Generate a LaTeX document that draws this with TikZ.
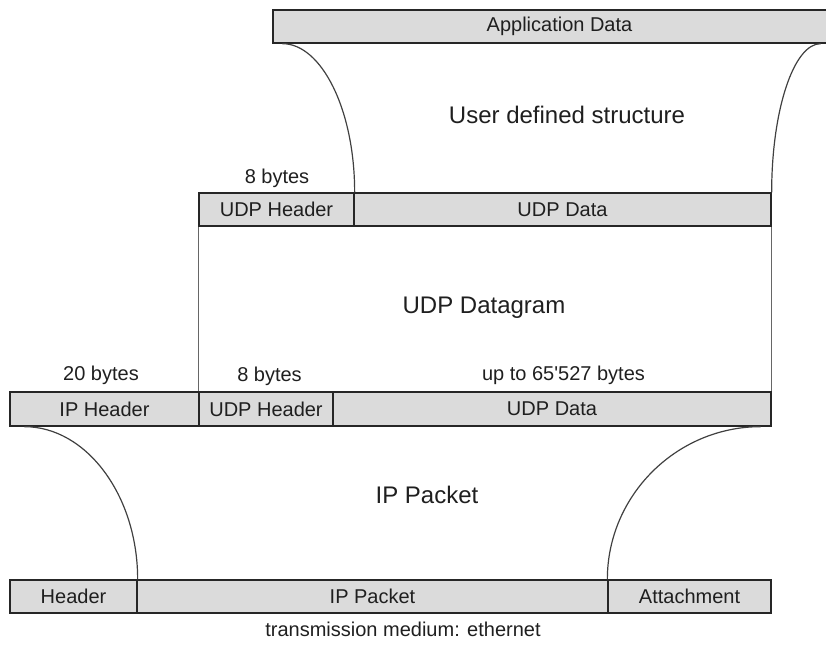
\documentclass[tikz,border=0pt]{standalone}
\usepackage{fontspec}
\setmainfont{Liberation Sans}
\begin{document}
\begin{tikzpicture}[x=1pt,y=-1pt,
  cell/.style={draw=black!85, line width=1.3pt, fill=black!14, inner sep=0pt,
    minimum height=33pt, text=black!88, font=\fontsize{20}{24}\selectfont},
  note/.style={inner sep=0pt, text=black!88, font=\fontsize{20}{24}\selectfont},
  title/.style={inner sep=0pt, text=black!88, font=\fontsize{24}{28}\selectfont},
  link/.style={draw=black!75, line width=1.2pt},
  edge/.style={draw=black!60, line width=1.2pt}]
\useasboundingbox (0,0) rectangle (826,653);

% application layer
\node[cell, minimum width=573pt] (app) at (559.5,26.5) {Application Data};
\node[title] (user) at (567,115) {User defined structure};

% UDP datagram
\node[note] (b8a) at (277,178) {8 bytes};
\node[cell, minimum width=155pt] (udph1) at (276.5,209.5) {UDP Header};
\node[cell, minimum width=417pt] (udpd1) at (562.5,209.5) {UDP Data};
\node[title] (dgram) at (484,308) {UDP Datagram};

% IP packet
\node[note] (b20) at (101,375) {20 bytes};
\node[note] (b8b) at (269.5,376) {8 bytes};
\node[note] (bmax) at (563.5,375) {up to 65\textquotesingle 527 bytes};
\node[cell, minimum width=189pt, minimum height=34pt] (iph) at (104.5,409) {IP Header};
\node[cell, minimum width=134pt, minimum height=34pt] (udph2) at (266,409) {UDP Header};
\node[cell, minimum width=438pt, minimum height=34pt] (udpd2) at (552,409) {UDP Data};
\node[title] (ippk) at (427,495) {IP Packet};

% ethernet frame
\node[cell, minimum width=127pt] (hdr) at (73.5,596.5) {Header};
\node[cell, minimum width=471pt] (ipp) at (372.5,596.5) {IP Packet};
\node[cell, minimum width=163pt] (att) at (689.5,596.5) {Attachment};
\node[note] (medium) at (403,629) {transmission medium: ethernet};

% side walls of the datagram
\draw[edge] (udph1.south west) -- (udph2.north west);
\draw[edge] (udpd1.south east) -- (udpd2.north east);

% encapsulation curves
\draw[link] ([xshift=10pt]app.south west) .. controls +(39,0) and +(0,-83) .. (udph1.north east);
\draw[link] ([xshift=-26pt]app.south east) .. controls +(-27,0) and +(0,-82) .. (udpd1.north east);
\draw[link] ([xshift=15pt]iph.south west) .. controls +(62,0) and +(0,-84) .. (hdr.north east);
\draw[link] ([xshift=-11pt]udpd2.south east) .. controls +(-84,0) and +(0,-84) .. (att.north west);
\end{tikzpicture}
\end{document}
